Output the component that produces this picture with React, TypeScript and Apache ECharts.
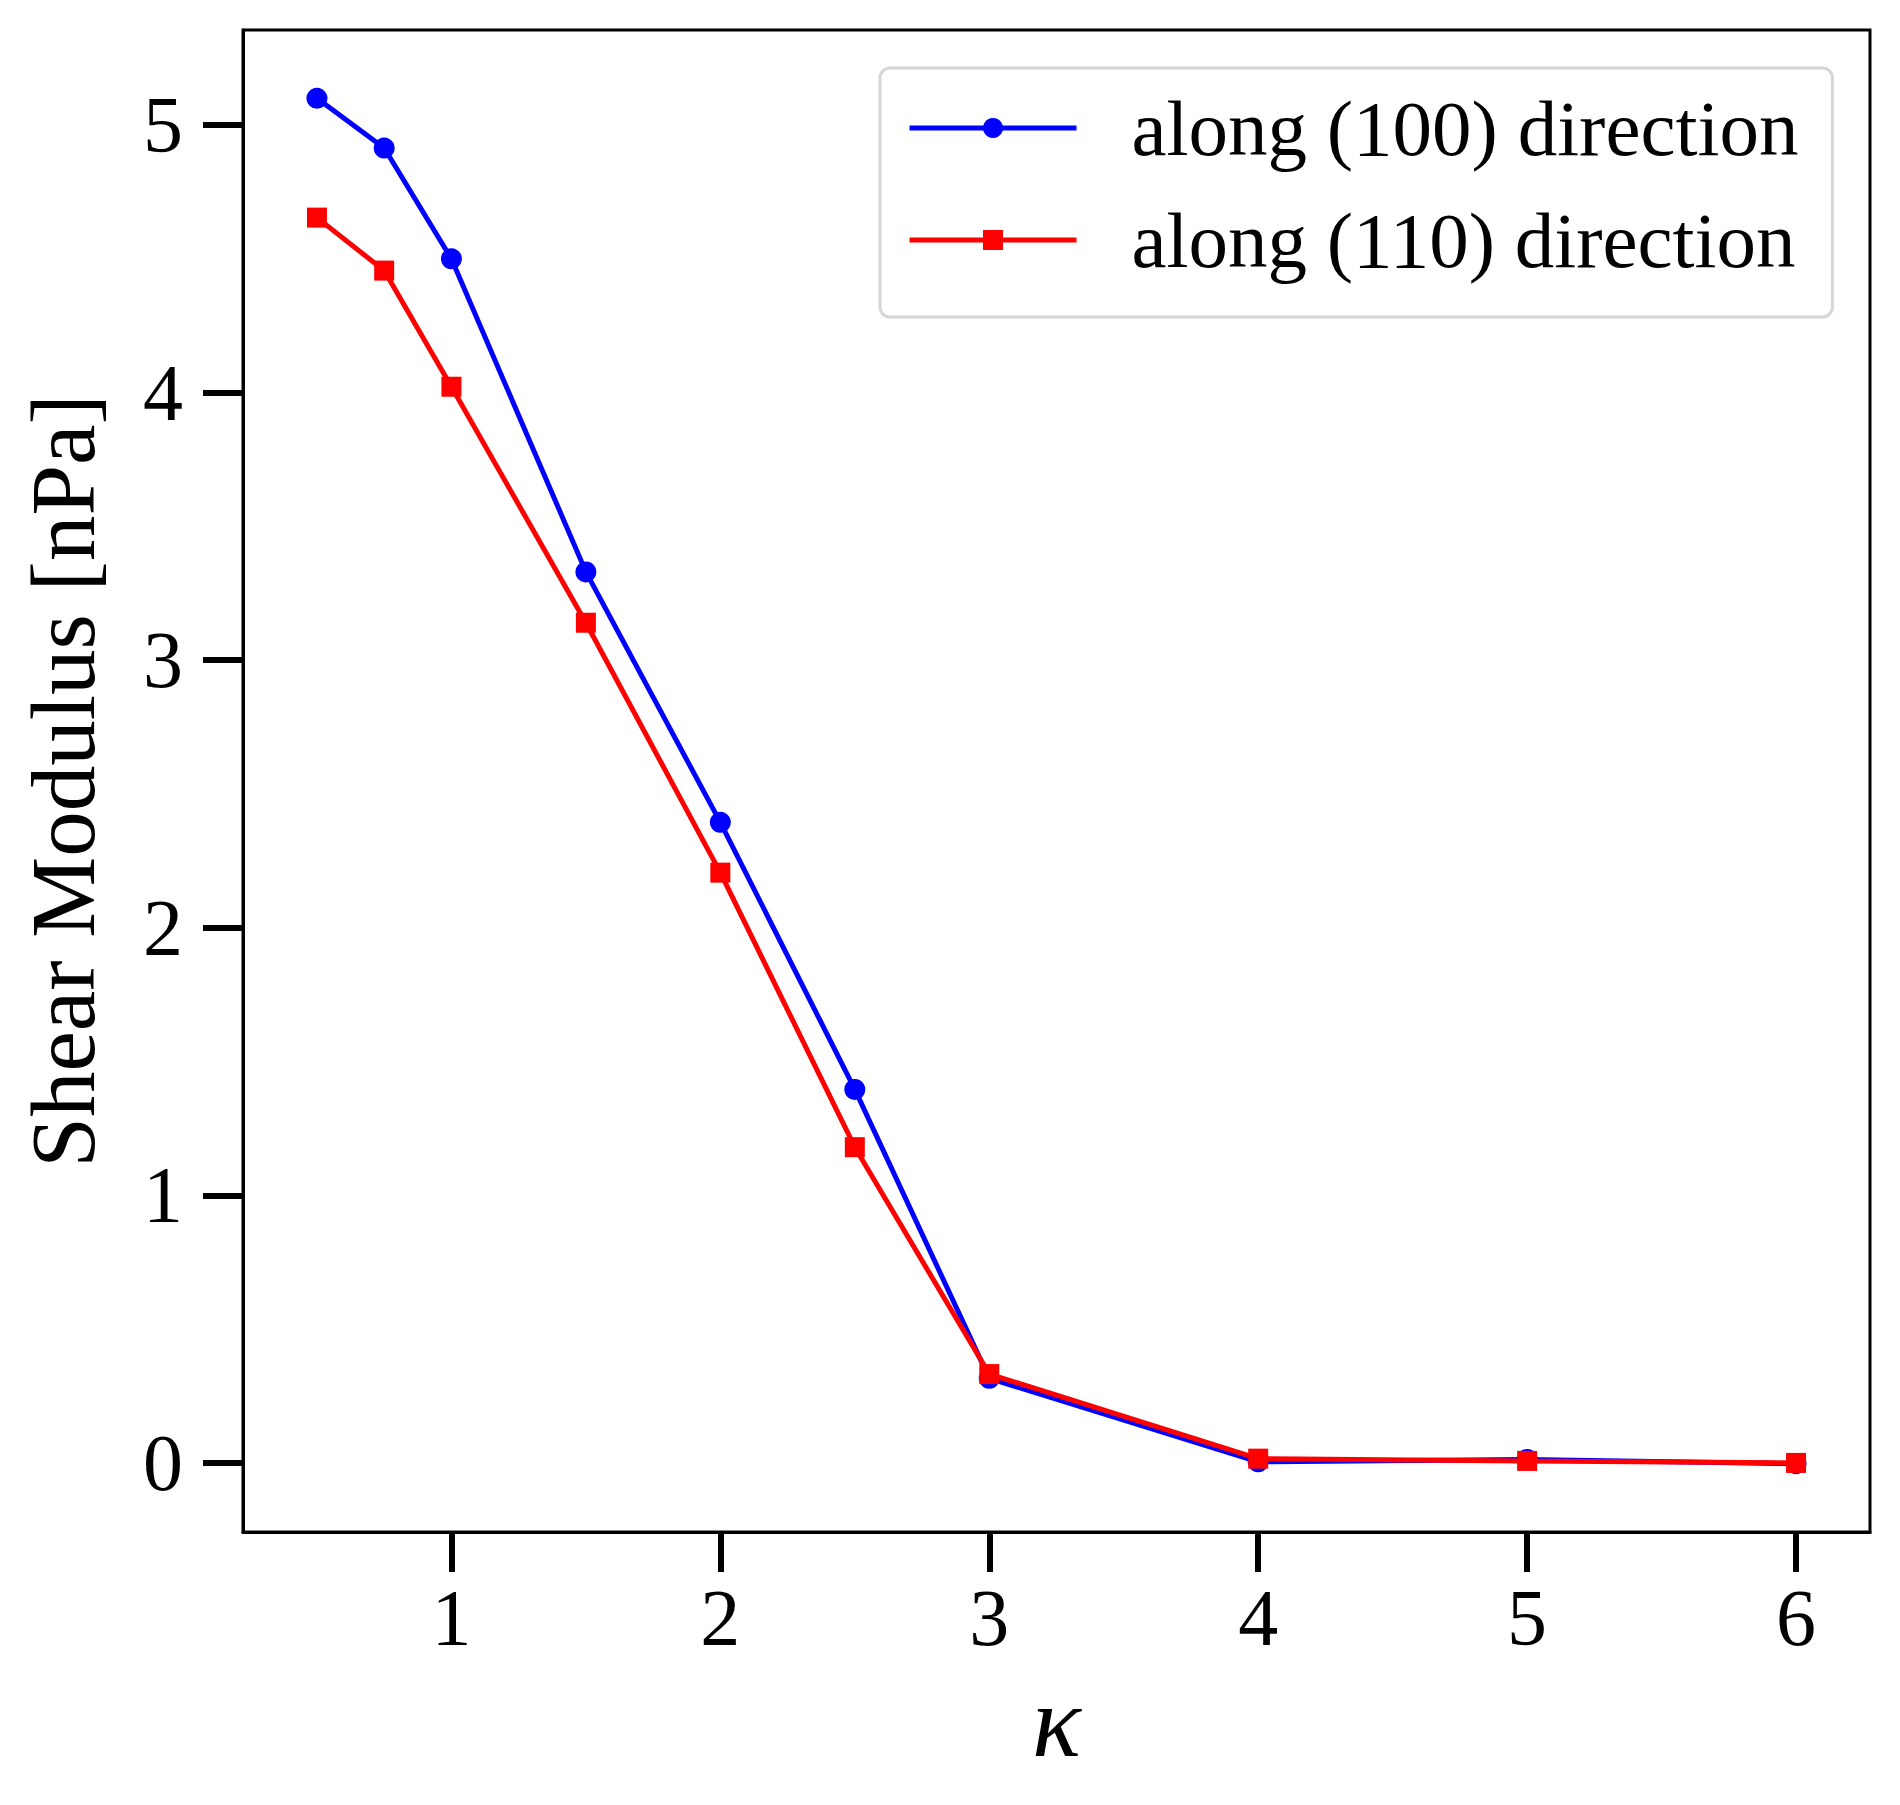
import React, { useEffect, useRef } from "react";
import * as echarts from "echarts";

const kappa = [0.5, 0.75, 1, 1.5, 2, 2.5, 3, 4, 5, 6];
const along100 = [5.1, 4.914, 4.5, 3.33, 2.394, 1.396, 0.316, 0.004, 0.013, -0.003];
const along110 = [4.654, 4.456, 4.022, 3.14, 2.206, 1.18, 0.332, 0.016, 0.0075, 0.0];
const xTicks = [1, 2, 3, 4, 5, 6];
const yTicks = [0, 1, 2, 3, 4, 5];
const seriesNames = ["along (100) direction", "along (110) direction"];
const xLabel = "κ";
const yLabel = "Shear Modulus [nPa]";

const FONT = "'Liberation Serif', 'Times New Roman', 'DejaVu Serif', serif";

function padRange(vals: number[]) {
  const lo = Math.min(...vals);
  const hi = Math.max(...vals);
  const m = (hi - lo) * 0.05;
  return [lo - m, hi + m];
}

export default function App() {
  const ref = useRef<HTMLDivElement>(null);
  useEffect(() => {
    if (!ref.current) return;
    const chart = echarts.init(ref.current, null, { renderer: "svg" });
    const [xMin, xMax] = padRange(kappa);
    const [yMin, yMax] = padRange([...along100, ...along110]);
    const mk = (ys: number[]) => kappa.map((x, i) => [x, ys[i]]);
    chart.setOption({
      animation: false,
      backgroundColor: "#ffffff",
      grid: {
        left: 243,
        right: 30,
        top: 30,
        bottom: 273,
        show: true,
        borderColor: "#000",
        borderWidth: 3,
        backgroundColor: "transparent",
        containLabel: false,
        outerBoundsMode: "none",
      },
      legend: {
        orient: "vertical",
        left: 880,
        top: 68,
        padding: [15, 34, 32, 27],
        itemGap: 22,
        itemWidth: 167,
        itemHeight: 25,
        borderColor: "#d6d6d6",
        borderWidth: 3,
        borderRadius: 10,
        backgroundColor: "#fff",
        lineStyle: { width: 5 },
        textStyle: {
          fontFamily: FONT,
          fontSize: 79,
          color: "#000",
          lineHeight: 90,
          padding: [0, 0, 0, 50],
        },
        data: seriesNames,
      },
      xAxis: {
        type: "value",
        min: xMin,
        max: xMax,
        name: xLabel,
        nameLocation: "middle",
        nameGap: 138,
        nameTextStyle: { fontFamily: FONT, fontSize: 102, fontStyle: "italic", color: "#000" },
        axisLine: { show: true, onZero: false, lineStyle: { color: "#000", width: 3 } },
        axisTick: { show: true, length: 40, inside: false, customValues: xTicks, lineStyle: { color: "#000", width: 6 } },
        axisLabel: { customValues: xTicks, margin: 46, fontFamily: FONT, fontSize: 80, color: "#000" },
        splitLine: { show: false },
      },
      yAxis: {
        type: "value",
        min: yMin,
        max: yMax,
        name: yLabel,
        nameLocation: "middle",
        nameRotate: 90,
        nameGap: 134,
        nameTextStyle: { fontFamily: FONT, fontSize: 91, color: "#000" },
        axisLine: { show: true, onZero: false, lineStyle: { color: "#000", width: 3 } },
        axisTick: { show: true, length: 40, inside: false, customValues: yTicks, lineStyle: { color: "#000", width: 6 } },
        axisLabel: { customValues: yTicks, margin: 60, fontFamily: FONT, fontSize: 80, color: "#000" },
        splitLine: { show: false },
      },
      series: [
        {
          name: seriesNames[0],
          type: "line",
          data: mk(along100),
          symbol: "circle",
          symbolSize: 21,
          z: 2,
          lineStyle: { color: "#0000ff", width: 5 },
          itemStyle: { color: "#0000ff" },
        },
        {
          name: seriesNames[1],
          type: "line",
          data: mk(along110),
          symbol: "rect",
          symbolSize: 20,
          z: 3,
          lineStyle: { color: "#ff0000", width: 5 },
          itemStyle: { color: "#ff0000" },
        },
      ],
    });
    return () => chart.dispose();
  }, []);
  return (
    <div
      ref={ref}
      style={{ position: "absolute", left: 0, top: 0, width: 1900, height: 1805, background: "#fff" }}
    />
  );
}
